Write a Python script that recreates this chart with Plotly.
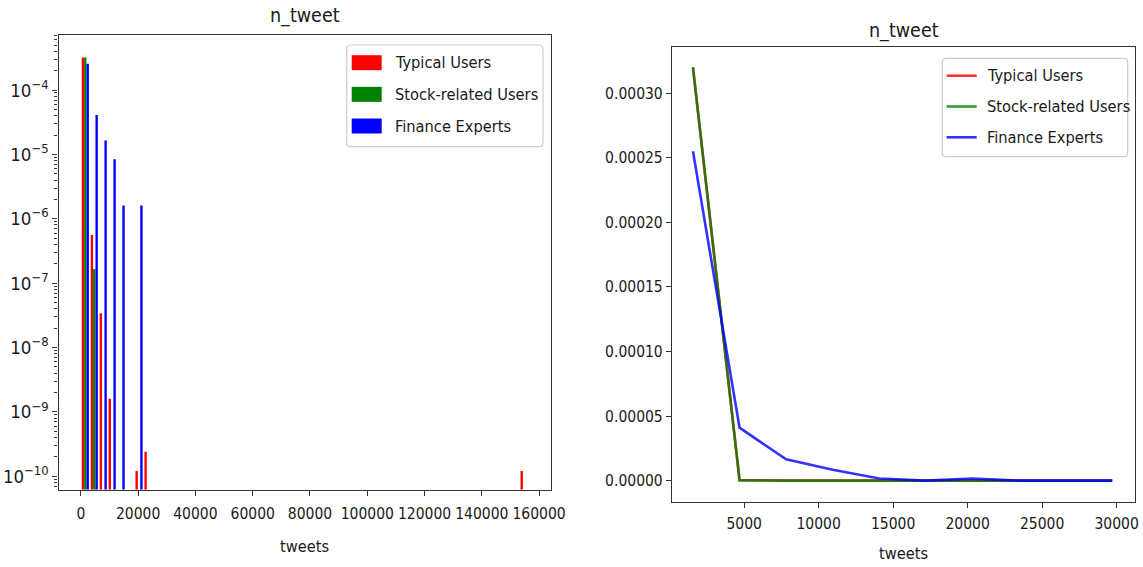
import numpy as np
import plotly.graph_objects as go

W, H = 1143, 567

# --- data -----------------------------------------------------------------
series_names = ["Typical Users", "Stock-related Users", "Finance Experts"]
bar_colors = ["#ff0000", "#008000", "#0000ff"]
line_colors = ["rgba(255,0,0,0.8)", "rgba(0,128,0,0.8)", "rgba(0,0,255,0.8)"]

# histogram binning of tweet counts
tweet_min, tweet_max, n_bins = 0, 156318, 50

# density per non-empty bin, for each user group
typical_bins = [0, 1, 2, 3, 6, 7, 49]
typical_density = [3.2e-4, 5.6e-7, 3.4e-8, 1.6e-9, 1.2e-10, 2.4e-10, 1.2e-10]
stock_bins = [0, 1]
stock_density = [3.2e-4, 1.65e-7]
expert_bins = [0, 1, 2, 3, 4, 6]
expert_density = [2.55e-4, 4.1e-5, 1.65e-5, 8.4e-6, 1.6e-6, 1.6e-6]

zoom_bins = 10  # the linear panel shows the first bins only

log_tick_exps = [-10, -9, -8, -7, -6, -5, -4]
left_xticks = [0, 20000, 40000, 60000, 80000, 100000, 120000, 140000, 160000]
right_xticks = [5000, 10000, 15000, 20000, 25000, 30000]
right_yticks = [0.0, 0.00005, 0.0001, 0.00015, 0.0002, 0.00025, 0.0003]

# --- helpers --------------------------------------------------------------
FONT = "DejaVu Sans Condensed, DejaVu Sans, sans-serif"
TXT = "#1a1a1a"
AX = "#333333"
TICK_SIZE = 15.5
LOG_TICK_SIZE = 18.5
LEG_SIZE = 16.3
TITLE_SIZE = 19.5


def px(x):
    return x / W


def py(y):
    return 1 - y / H


def dense(bins, values):
    arr = np.zeros(n_bins)
    arr[bins] = values
    return arr


edges = np.linspace(tweet_min, tweet_max, n_bins + 1)
centers = (edges[:-1] + edges[1:]) / 2
densities = [
    dense(typical_bins, typical_density),
    dense(stock_bins, stock_density),
    dense(expert_bins, expert_density),
]

fig = go.Figure()

# left: log-scale grouped histogram
for name, color, d in zip(series_names, bar_colors, densities):
    fig.add_trace(go.Bar(
        x=centers, y=[v if v > 0 else None for v in d],
        name=name, marker=dict(color=color, line=dict(width=0)),
        xaxis="x", yaxis="y", showlegend=False,
    ))

# right: linear density curves over the first bins
for name, color, d in zip(series_names, line_colors, densities):
    fig.add_trace(go.Scatter(
        x=centers[:zoom_bins], y=d[:zoom_bins], mode="lines",
        name=name, line=dict(color=color, width=2.6),
        xaxis="x2", yaxis="y2", showlegend=False,
    ))

axis_common = dict(
    showline=True, mirror=True, linecolor=AX, linewidth=1.3,
    ticks="outside", ticklen=5, tickwidth=1.2, tickcolor=AX,
    showgrid=False, zeroline=False, automargin=False, tickangle=0,
)
tick_font = dict(family=FONT, size=TICK_SIZE, color=TXT)

minor_vals = [k * 10.0 ** e for e in range(-11, -2) for k in range(2, 10)]

fig.update_layout(
    width=W, height=H,
    margin=dict(l=0, r=0, t=0, b=0),
    paper_bgcolor="white", plot_bgcolor="white",
    barmode="group", bargap=0.2, bargroupgap=0,
    font=dict(family=FONT, size=TICK_SIZE, color=TXT),
    xaxis=dict(
        domain=[px(58.5), px(551)], range=[-7800, 164150],
        tickmode="array", tickvals=left_xticks,
        ticktext=[str(v) for v in left_xticks],
        ticklabelstandoff=5, tickfont=tick_font,
        anchor="y", **axis_common,
    ),
    yaxis=dict(
        domain=[py(489.5), py(35)], type="log", range=[-10.207, -3.145],
        tickmode="array", tickvals=[10.0 ** e for e in log_tick_exps],
        ticktext=["10<sup>\u2212%d</sup>" % (-e) for e in log_tick_exps],
        tickfont=dict(family=FONT, size=LOG_TICK_SIZE, color=TXT),
        minor=dict(tickmode="array", tickvals=minor_vals, ticks="outside",
                   ticklen=3, tickwidth=1, tickcolor=AX, showgrid=False),
        anchor="x", **axis_common,
    ),
    xaxis2=dict(
        domain=[px(672), px(1135)], range=[156, 31230],
        tickmode="array", tickvals=right_xticks,
        ticktext=[str(v) for v in right_xticks],
        ticklabelstandoff=3, tickfont=tick_font,
        anchor="y2", **axis_common,
    ),
    yaxis2=dict(
        domain=[py(501.7), py(46.7)], range=[-1.63e-5, 3.36e-4],
        tickmode="array", tickvals=right_yticks,
        ticktext=["%.5f" % v for v in right_yticks],
        tickfont=tick_font,
        anchor="x2", **axis_common,
    ),
)

annotations = []
shapes = []

# panel titles and axis titles
for cx, ty, xy in [(304.75, 15, 546), (903.5, 30, 553)]:
    annotations.append(dict(
        text="n_tweet", x=px(cx), y=py(ty), xref="paper", yref="paper",
        xanchor="center", yanchor="middle", showarrow=False,
        font=dict(family=FONT, size=TITLE_SIZE, color=TXT),
    ))
    annotations.append(dict(
        text="tweets", x=px(cx), y=py(xy), xref="paper", yref="paper",
        xanchor="center", yanchor="middle", showarrow=False,
        font=dict(family=FONT, size=LEG_SIZE, color=TXT),
    ))


def rounded_box(x0, y0, x1, y1, r=4):
    pts = (
        f"M {px(x0 + r)},{py(y0)} L {px(x1 - r)},{py(y0)} "
        f"Q {px(x1)},{py(y0)} {px(x1)},{py(y0 + r)} "
        f"L {px(x1)},{py(y1 - r)} Q {px(x1)},{py(y1)} {px(x1 - r)},{py(y1)} "
        f"L {px(x0 + r)},{py(y1)} Q {px(x0)},{py(y1)} {px(x0)},{py(y1 - r)} "
        f"L {px(x0)},{py(y0 + r)} Q {px(x0)},{py(y0)} {px(x0 + r)},{py(y0)} Z"
    )
    return dict(type="path", path=pts, xref="paper", yref="paper",
                fillcolor="rgba(255,255,255,0.8)",
                line=dict(color="#cccccc", width=1.2), layer="above")


# legend of the histogram panel (patches)
shapes.append(rounded_box(346.7, 45, 543, 146.7))
for i, (name, color) in enumerate(zip(series_names, bar_colors)):
    cy = 62.7 + i * 31.65
    shapes.append(dict(type="rect", xref="paper", yref="paper",
                       x0=px(351.7), x1=px(381.7), y0=py(cy - 7.5), y1=py(cy + 7.5),
                       fillcolor=color, line=dict(width=0), layer="above"))
    annotations.append(dict(text=name, x=px(393), y=py(cy), xref="paper", yref="paper",
                            xanchor="left", yanchor="middle", showarrow=False,
                            font=dict(family=FONT, size=LEG_SIZE, color=TXT)))

# legend of the density panel (lines)
shapes.append(rounded_box(942.3, 58.3, 1127.7, 156.7))
for i, (name, color) in enumerate(zip(series_names, line_colors)):
    cy = 75.7 + i * 30.8
    shapes.append(dict(type="line", xref="paper", yref="paper",
                       x0=px(946.7), x1=px(976.7), y0=py(cy), y1=py(cy),
                       line=dict(color=color, width=2.6), layer="above"))
    annotations.append(dict(text=name, x=px(985), y=py(cy), xref="paper", yref="paper",
                            xanchor="left", yanchor="middle", showarrow=False,
                            font=dict(family=FONT, size=LEG_SIZE, color=TXT)))

fig.update_layout(annotations=annotations, shapes=shapes)

fig.write_html("out.html")
